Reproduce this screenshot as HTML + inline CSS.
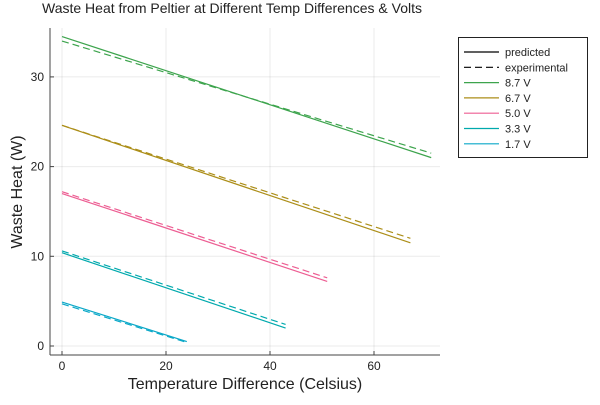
<!DOCTYPE html>
<html><head><meta charset="utf-8"><style>
body{margin:0;background:#fff;font-family:"Liberation Sans","DejaVu Sans",sans-serif}
</style></head><body>
<svg id="c" width="600" height="400" xmlns="http://www.w3.org/2000/svg">
<text x="232" y="13" font-size="14" text-anchor="middle" fill="#222">Waste Heat from Peltier at Different Temp Differences &amp; Volts</text>
<g id="grid"></g>
<line x1="50" y1="28" x2="50" y2="355" stroke="#444" stroke-width="1"/>
<line x1="50" y1="355" x2="440" y2="355" stroke="#444" stroke-width="1"/>
<g id="ticks"></g>
<g id="series"></g>
<text x="245" y="389" font-size="16" text-anchor="middle" fill="#222">Temperature Difference (Celsius)</text>
<text transform="translate(22,192) rotate(-90)" font-size="16" text-anchor="middle" fill="#222">Waste Heat (W)</text>
<g>
<rect x="458.5" y="37.5" width="129" height="120" fill="#fff" stroke="#222" stroke-width="1"/>
<g id="legend"></g>
</g>
</svg>
<script>
const xTicks=[0,20,40,60];
const yTicks=[0,10,20,30];
const labels=["8.7 V","6.7 V","5.0 V","3.3 V","1.7 V"];
const colors=["#3da44d","#ac8e18","#ed5e93","#00a9ad","#0aa8c8"];
const xStart=[0,0,0,0,0];
const xEnd=[71,67,51,43,24];
const predStart=[34.5,24.6,17.0,10.4,4.9];
const predEnd=[21.0,11.5,7.2,2.0,0.5];
const expStart=[34.0,24.6,17.2,10.6,4.7];
const expEnd=[21.5,12.0,7.6,2.4,0.4];
const X=v=>62+v*5.2, Y=v=>346-v*8.97;
const NS="http://www.w3.org/2000/svg";
function mk(tag,attrs,parent){const e=document.createElementNS(NS,tag);for(const k in attrs)e.setAttribute(k,attrs[k]);document.getElementById(parent).appendChild(e);return e;}
xTicks.forEach(t=>{
 const g=mk("line",{x1:X(t),x2:X(t),y1:28,y2:355,stroke:"#000","stroke-opacity":0.08},"grid");
 
 
 const tk=mk("line",{x1:X(t),x2:X(t),y1:355,y2:351,stroke:"#444"},"ticks");
 
 
 const l=mk("text",{x:X(t),y:370,"font-size":12,"text-anchor":"middle",fill:"#222"},"ticks");
 l.textContent=t;
 
 
});
yTicks.forEach(t=>{
 const g=mk("line",{x1:50,x2:440,y1:Y(t),y2:Y(t),stroke:"#000","stroke-opacity":0.08},"grid");
 
 
 const tk=mk("line",{x1:50,x2:54,y1:Y(t),y2:Y(t),stroke:"#444"},"ticks");
 
 
 const l=mk("text",{x:44,y:Y(t)+4,"font-size":12,"text-anchor":"end",fill:"#222"},"ticks");
 l.textContent=t;
 
 
});
labels.forEach((lab,i)=>{
 const p=mk("line",{x1:X(xStart[i]),y1:Y(predStart[i]),x2:X(xEnd[i]),y2:Y(predEnd[i]),stroke:colors[i],"stroke-width":1.2},"series");
 
 
 const e=mk("line",{x1:X(xStart[i]),y1:Y(expStart[i]),x2:X(xEnd[i]),y2:Y(expEnd[i]),stroke:colors[i],"stroke-width":1.2,"stroke-dasharray":"7 4"},"series");
 
 
});
const legItems=[["predicted","#000",false],["experimental","#000",true]].concat(labels.map((l,i)=>[l,colors[i],false]));
legItems.forEach((it,i)=>{
 const y=52+i*15.3;
 const ln=mk("line",{x1:464,x2:499,y1:y,y2:y,stroke:it[1],"stroke-width":1.2},"legend");
 if(it[2])ln.setAttribute("stroke-dasharray","7 4");
 
 
 const t=mk("text",{x:505,y:y+4,"font-size":11,fill:"#222"},"legend");
 t.textContent=it[0];
 
 
});
</script>
</body></html>
